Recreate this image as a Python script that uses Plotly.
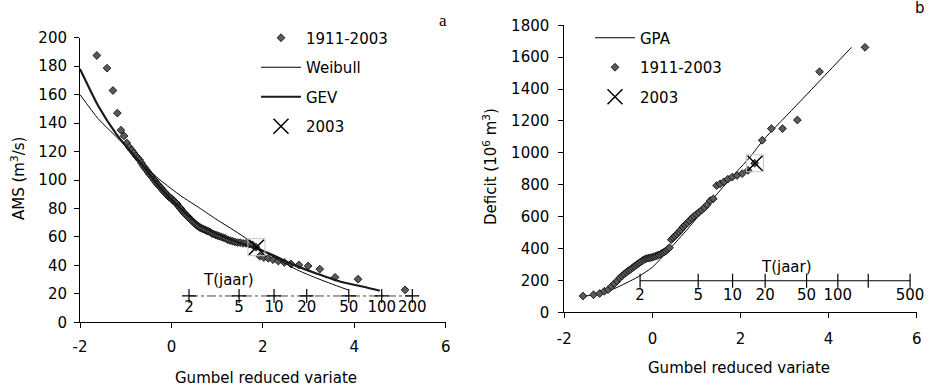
import plotly.graph_objects as go

# ---------------- Panel a: AMS (m3/s) ----------------
ams_x = [-1.632, -1.408, -1.279, -1.183, -1.104, -1.036, -0.976, -0.921, -0.870, -0.823,
         -0.778, -0.735, -0.695, -0.656, -0.618, -0.582, -0.546, -0.512, -0.478, -0.445,
         -0.412, -0.380, -0.349, -0.318, -0.287, -0.257, -0.227, -0.197, -0.167, -0.138,
         -0.108, -0.079, -0.050, -0.020, 0.009, 0.038, 0.067, 0.097, 0.126, 0.156,
         0.185, 0.215, 0.245, 0.275, 0.305, 0.336, 0.367, 0.398, 0.429, 0.461,
         0.493, 0.526, 0.559, 0.592, 0.626, 0.661, 0.696, 0.732, 0.768, 0.805,
         0.844, 0.882, 0.922, 0.963, 1.004, 1.047, 1.091, 1.137, 1.184, 1.232,
         1.282, 1.334, 1.388, 1.445, 1.504, 1.565, 1.630, 1.699, 1.771, 1.849,
         1.932, 2.020, 2.117, 2.222, 2.339, 2.469, 2.617, 2.788, 2.991, 3.245,
         3.580, 4.082, 5.111]
ams_y = [187.5, 178.6, 162.9, 147.0, 135.0, 131.0, 126.0, 123.0, 121.0, 119.0,
         117.0, 115.5, 114.0, 112.0, 110.0, 108.5, 107.0, 105.5, 104.0, 103.0,
         101.5, 100.0, 99.0, 97.5, 96.5, 95.5, 94.5, 93.0, 92.0, 91.0,
         90.0, 89.0, 88.0, 87.5, 86.5, 85.5, 85.0, 84.0, 83.0, 81.5,
         80.5, 79.5, 78.0, 77.0, 76.0, 75.0, 74.0, 73.0, 72.0, 71.0,
         70.0, 69.0, 68.0, 67.5, 66.5, 66.0, 65.5, 65.0, 64.5, 64.0,
         63.5, 62.5, 62.0, 61.5, 61.0, 60.5, 60.0, 59.5, 59.0, 58.0,
         57.5, 57.0, 56.5, 56.0, 56.0, 55.5, 55.5, 55.0, 54.5, 52.8,
         46.5, 45.5, 45.0, 44.0, 43.0, 42.0, 41.0, 40.3, 39.6, 37.4,
         31.6, 30.3, 22.8]
weibull_x = [-2.0, -1.6, -1.1, -0.6, -0.25, 0.2, 0.63, 1.0, 1.3, 1.61, 2.0, 2.4, 2.74, 3.1, 3.47, 3.87]
weibull_y = [160, 143, 127, 110, 100, 89, 80, 72, 66, 59.5, 50.5, 43, 37, 32, 27.4, 22.7]
gev_x = [-2.0, -1.6, -1.2, -1.0, -0.6, -0.2, 0.2, 0.6, 1.0, 1.4, 1.8, 2.2, 2.7, 3.2, 3.7, 4.2, 4.56]
gev_y = [178, 152, 132, 124, 109, 93, 80, 69, 62, 57, 52.5, 47.5, 40, 34, 28.5, 25, 22.2]
ams2003_x = [1.86]
ams2003_y = [52.8]
t_a_pos = [0.385, 1.48, 2.245, 2.96, 3.88, 4.60, 5.27]
t_a_lab = ["2", "5", "10", "20", "50", "100", "200"]
t_a_level = 18.5

# ---------------- Panel b: Deficit (10^6 m3) ----------------
def_x = [-1.575, -1.336, -1.197, -1.092, -1.005, -0.930, -0.863, -0.801, -0.743, -0.689,
         -0.638, -0.589, -0.542, -0.497, -0.452, -0.409, -0.367, -0.325, -0.285, -0.244,
         -0.204, -0.165, -0.126, -0.087, -0.048, -0.009, 0.030, 0.069, 0.107, 0.146,
         0.186, 0.225, 0.265, 0.305, 0.346, 0.387, 0.429, 0.471, 0.514, 0.558,
         0.603, 0.648, 0.695, 0.742, 0.791, 0.841, 0.893, 0.946, 1.001, 1.058,
         1.118, 1.180, 1.244, 1.312, 1.383, 1.458, 1.537, 1.623, 1.714, 1.813,
         1.920, 2.039, 2.171, 2.321, 2.494, 2.700, 2.954, 3.291, 3.794, 4.826]
def_y = [102, 110, 118, 132, 142, 162, 180, 196, 215, 228,
         240, 251, 261, 269, 279, 288, 296, 305, 312, 320,
         328, 334, 338, 340, 342, 345, 348, 352, 356, 360,
         365, 372, 378, 385, 395, 405, 455, 468, 478, 490,
         505, 518, 535, 548, 560, 575, 590, 602, 615, 627,
         641, 656, 675, 700, 712, 795, 805, 818, 835, 848,
         858, 870, 890, 935, 1079, 1152, 1152, 1206, 1509, 1662]
gpa_x = [-1.65, -1.4, -1.2, -1.0, -0.85, -0.6, -0.32, 0.0, 0.4, 0.78, 1.16, 1.53, 1.91, 2.22, 2.52, 3.35, 4.52]
gpa_y = [100, 106, 116, 133, 150, 183, 223, 283, 400, 516, 642, 762, 880, 975, 1081, 1321, 1662]
def2003_x = [2.33]
def2003_y = [935]
t_b_pos = [-0.28, 1.04, 1.82, 2.56, 3.50, 4.21, 4.90, 5.85]
t_b_lab_pos = [-0.28, 1.04, 1.82, 2.56, 3.50, 4.21, 5.85]
t_b_lab = ["2", "5", "10", "20", "50", "100", "500"]
t_b_level = 198

x_ticks = [-2, 0, 2, 4, 6]
x_ticktext = ["-2", "0", "2", "4", "6"]

FONT = "DejaVu Sans"
W, H = 931, 387

fig = go.Figure()

pt_marker = dict(symbol="diamond", size=6, color="#5a5a5a", line=dict(color="black", width=0.8))

# panel a traces
fig.add_trace(go.Scatter(x=t_a_pos, y=[t_a_level] * len(t_a_pos), mode="lines+markers",
                         line=dict(color="#444", width=1, dash="dashdot"),
                         marker=dict(symbol="cross-thin", size=10, line=dict(color="black", width=1.2)),
                         showlegend=False, xaxis="x", yaxis="y", cliponaxis=False))
fig.add_trace(go.Scatter(x=t_a_pos, y=[9.8] * len(t_a_pos), mode="text", text=t_a_lab,
                         textfont=dict(family=FONT, size=15, color="black"), showlegend=False,
                         xaxis="x", yaxis="y", cliponaxis=False))
fig.add_trace(go.Scatter(x=ams_x, y=ams_y, mode="markers", name="1911-2003", marker=pt_marker,
                         legend="legend", legendgroup="a1", xaxis="x", yaxis="y"))
fig.add_trace(go.Scatter(x=weibull_x, y=weibull_y, mode="lines", name="Weibull",
                         line=dict(color="black", width=1, shape="spline", smoothing=0.6),
                         legend="legend", legendgroup="a2", xaxis="x", yaxis="y"))
fig.add_trace(go.Scatter(x=gev_x, y=gev_y, mode="lines", name="GEV",
                         line=dict(color="#1a1a1a", width=2.2, shape="spline", smoothing=0.6),
                         legend="legend", legendgroup="a3", xaxis="x", yaxis="y"))
fig.add_trace(go.Scatter(x=ams2003_x, y=ams2003_y, mode="markers", showlegend=False,
                         marker=dict(symbol="square-open", size=17, color="#c4c4c4", line=dict(width=1)),
                         xaxis="x", yaxis="y"))
fig.add_trace(go.Scatter(x=ams2003_x, y=ams2003_y, mode="markers", name="2003",
                         marker=dict(symbol="x-thin-open", size=15, color="black", line=dict(color="black", width=1.5)),
                         legend="legend", legendgroup="a4", xaxis="x", yaxis="y"))

# panel b traces
fig.add_trace(go.Scatter(x=t_b_pos, y=[t_b_level] * len(t_b_pos), mode="lines+markers",
                         line=dict(color="black", width=1.2),
                         marker=dict(symbol="line-ns", size=10, line=dict(color="black", width=1.2)),
                         showlegend=False, xaxis="x2", yaxis="y2", cliponaxis=False))
fig.add_trace(go.Scatter(x=t_b_lab_pos, y=[102] * len(t_b_lab_pos), mode="text", text=t_b_lab,
                         textfont=dict(family=FONT, size=15, color="black"), showlegend=False,
                         xaxis="x2", yaxis="y2", cliponaxis=False))
fig.add_trace(go.Scatter(x=gpa_x, y=gpa_y, mode="lines", name="GPA",
                         line=dict(color="black", width=1, shape="spline", smoothing=0.6),
                         legend="legend2", legendgroup="b1", xaxis="x2", yaxis="y2"))
fig.add_trace(go.Scatter(x=def_x, y=def_y, mode="markers", name="1911-2003", marker=pt_marker,
                         legend="legend2", legendgroup="b2", xaxis="x2", yaxis="y2"))
fig.add_trace(go.Scatter(x=def2003_x, y=def2003_y, mode="markers", showlegend=False,
                         marker=dict(symbol="square-open", size=17, color="#c4c4c4", line=dict(width=1)),
                         xaxis="x2", yaxis="y2"))
fig.add_trace(go.Scatter(x=def2003_x, y=def2003_y, mode="markers", name="2003",
                         marker=dict(symbol="x-thin-open", size=15, color="black", line=dict(color="black", width=1.5)),
                         legend="legend2", legendgroup="b3", xaxis="x2", yaxis="y2"))

axis_common = dict(showline=True, linecolor="black", linewidth=1, ticks="outside", ticklen=5,
                   tickcolor="black", tickwidth=1, showgrid=False, zeroline=False, automargin=False,
                   tickfont=dict(family=FONT, size=15, color="black"))

fig.update_layout(
    width=W, height=H, margin=dict(l=0, r=0, t=0, b=0, pad=0),
    paper_bgcolor="white", plot_bgcolor="white",
    font=dict(family=FONT, size=15, color="black"),
    xaxis=dict(domain=[80 / W, 445.7 / W], range=[-2, 6], tickvals=x_ticks, ticktext=x_ticktext,
               anchor="y", ticklabelstandoff=6, **axis_common),
    yaxis=dict(domain=[(H - 322.3) / H, (H - 37.7) / H], range=[0, 200], dtick=20,
               anchor="x", ticklabelstandoff=4, **axis_common),
    xaxis2=dict(domain=[564.3 / W, 916.7 / W], range=[-2, 6], tickvals=x_ticks, ticktext=x_ticktext,
                anchor="y2", ticklabelstandoff=8, **axis_common),
    yaxis2=dict(domain=[(H - 312.3) / H, (H - 25.3) / H], range=[0, 1800], dtick=200,
                anchor="x2", ticklabelstandoff=6, **axis_common),
    legend=dict(x=256 / W, y=1 - 21.5 / H, xanchor="left", yanchor="top", bgcolor="rgba(0,0,0,0)",
                font=dict(family=FONT, size=15), tracegroupgap=7, itemwidth=40),
    legend2=dict(x=590 / W, y=1 - 21.5 / H, xanchor="left", yanchor="top", bgcolor="rgba(0,0,0,0)",
                 font=dict(family=FONT, size=15), tracegroupgap=7, itemwidth=40),
    annotations=[
        dict(text="Gumbel reduced variate", x=265.5 / W, y=1 - 378.3 / H, xref="paper", yref="paper",
             showarrow=False, xanchor="center", yanchor="middle", font=dict(family=FONT, size=15)),
        dict(text="Gumbel reduced variate", x=738.8 / W, y=1 - 367.7 / H, xref="paper", yref="paper",
             showarrow=False, xanchor="center", yanchor="middle", font=dict(family=FONT, size=15)),
        dict(text="AMS (m<sup>3</sup>/s)", x=18 / W, y=1 - 179 / H, xref="paper", yref="paper",
             showarrow=False, textangle=-90, xanchor="center", yanchor="middle",
             font=dict(family=FONT, size=15)),
        dict(text="Deficit (10<sup>6</sup> m<sup>3</sup>)", x=490 / W, y=1 - 167 / H, xref="paper",
             yref="paper", showarrow=False, textangle=-90, xanchor="center", yanchor="middle",
             font=dict(family=FONT, size=15)),
        dict(text="T(jaar)", x=1.25, y=29.7, xref="x", yref="y", showarrow=False,
             font=dict(family=FONT, size=15)),
        dict(text="T(jaar)", x=3.05, y=286, xref="x2", yref="y2", showarrow=False,
             font=dict(family=FONT, size=15)),
        dict(text="a", x=442.7 / W, y=1 - 20 / H, xref="paper", yref="paper", showarrow=False,
             xanchor="center", yanchor="middle", font=dict(family="Liberation Serif", size=17)),
        dict(text="b", x=920 / W, y=1 - 8.3 / H, xref="paper", yref="paper", showarrow=False,
             xanchor="center", yanchor="middle", font=dict(family=FONT, size=15)),
    ],
)

fig.write_html("out.html")
